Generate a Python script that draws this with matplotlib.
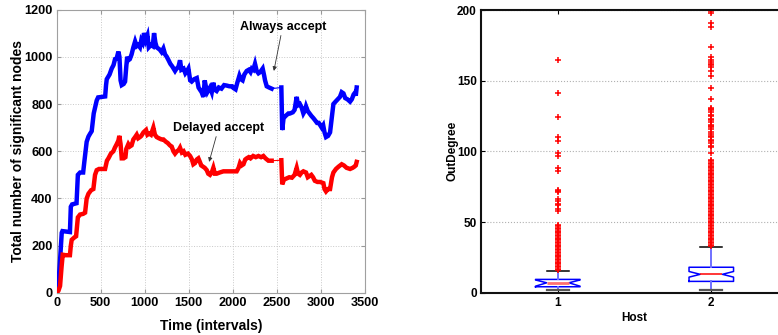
import matplotlib
matplotlib.use("Agg")
import matplotlib.pyplot as plt
import numpy as np

plt.rcParams['font.family'] = ['Liberation Sans', 'DejaVu Sans']
plt.rcParams['font.weight'] = 'bold'

# ---------------- Left panel data ----------------
t_always = [0, 20, 38, 57, 65, 150, 160, 175, 225, 240, 265, 300, 315, 340, 360, 380, 397, 420, 454, 470,
            550, 560, 568, 600, 624, 645, 662, 680, 700, 712, 725, 738, 760, 776, 790, 800, 813, 830, 850, 870,
            890, 908, 925, 945, 960, 975, 991, 1010, 1030, 1045, 1070, 1090, 1105, 1120, 1135, 1170, 1190, 1211, 1230, 1249,
            1270, 1290, 1310, 1343, 1360, 1380, 1400, 1415, 1440, 1460, 1480, 1495, 1515, 1532, 1560, 1590, 1610, 1627, 1645, 1665,
            1680, 1695, 1710, 1725, 1740, 1760, 1778, 1795, 1815, 1840, 1870, 1900, 1930, 1960, 1990, 2005, 2030, 2050, 2074, 2090,
            2110, 2130, 2157, 2180, 2200, 2215, 2232, 2251, 2270, 2290, 2310, 2338, 2355, 2365, 2384, 2410, 2440, 2550, 2560, 2575,
            2600, 2630, 2649, 2680, 2700, 2724, 2740, 2760, 2780, 2800, 2815, 2830, 2850, 2870, 2890, 2914, 2935, 2955, 2975, 3008,
            3025, 3040, 3057, 3080, 3103, 3125, 3141, 3165, 3190, 3215, 3235, 3255, 3275, 3300, 3330, 3350, 3370, 3390, 3395, 3405]
v_always = [0, 40, 140, 255, 262, 258, 365, 375, 380, 500, 510, 510, 560, 640, 662, 675, 685, 760, 815, 828,
            832, 880, 905, 925, 950, 965, 990, 992, 1022, 1000, 900, 880, 885, 895, 960, 1000, 985, 990, 1010, 1040,
            1065, 1045, 1050, 1040, 1070, 1060, 1100, 1070, 1090, 1040, 1050, 1045, 1100, 1060, 1040, 1030, 1020, 1035, 1010, 1000,
            985, 970, 960, 940, 950, 955, 985, 945, 950, 930, 940, 950, 900, 895, 905, 910, 870, 860, 850, 830,
            900, 870, 850, 860, 870, 850, 890, 860, 855, 870, 865, 880, 878, 875, 875, 868, 862, 890, 920, 905,
            900, 925, 940, 945, 935, 950, 945, 970, 940, 930, 935, 950, 920, 900, 875, 870, 865, 870, 690, 740,
            750, 760, 760, 765, 775, 830, 795, 800, 785, 760, 770, 790, 770, 760, 750, 740, 730, 720, 720, 700,
            710, 680, 660, 665, 680, 750, 800, 810, 820, 830, 850, 845, 825, 820, 810, 820, 840, 850, 835, 870]

t_delayed = [0, 20, 38, 55, 68, 100, 150, 160, 170, 200, 220, 240, 265, 300, 322, 340, 360, 390, 416, 435,
             454, 480, 549, 570, 587, 615, 643, 660, 681, 700, 711, 725, 738, 760, 780, 790, 813, 830, 850, 870,
             890, 908, 925, 945, 960, 985, 1014, 1030, 1050, 1070, 1097, 1115, 1135, 1160, 1190, 1211, 1240, 1260, 1285, 1305,
             1325, 1343, 1365, 1385, 1400, 1420, 1440, 1460, 1490, 1514, 1535, 1551, 1570, 1590, 1608, 1625, 1640, 1660, 1680, 1703,
             1720, 1740, 1760, 1778, 1795, 1815, 1850, 1892, 1940, 1990, 2043, 2065, 2081, 2100, 2120, 2140, 2157, 2180, 2200, 2230,
             2260, 2290, 2320, 2346, 2370, 2403, 2440, 2550, 2560, 2580, 2610, 2640, 2670, 2700, 2724, 2740, 2760, 2780, 2800, 2830,
             2850, 2870, 2890, 2910, 2930, 2960, 2990, 3027, 3040, 3057, 3080, 3103, 3125, 3141, 3170, 3200, 3235, 3260, 3290, 3330,
             3360, 3380, 3395, 3405]
v_delayed = [0, 10, 30, 110, 162, 160, 160, 200, 225, 235, 240, 320, 332, 335, 340, 400, 420, 435, 440, 500,
             520, 525, 525, 560, 570, 590, 600, 615, 630, 645, 665, 630, 570, 570, 575, 610, 630, 620, 625, 650,
             660, 670, 655, 660, 665, 680, 690, 670, 675, 670, 700, 670, 660, 655, 650, 650, 640, 635, 625, 620,
             600, 590, 600, 605, 615, 595, 600, 585, 590, 580, 565, 545, 550, 565, 570, 555, 540, 535, 530, 520,
             505, 500, 510, 530, 505, 505, 510, 515, 515, 515, 515, 530, 550, 540, 545, 565, 570, 575, 570, 580,
             575, 580, 575, 580, 570, 560, 560, 562, 460, 480, 485, 490, 488, 500, 530, 505, 500, 510, 515, 510,
             490, 495, 500, 490, 475, 470, 470, 465, 440, 430, 440, 440, 490, 510, 525, 535, 545, 540, 530, 525,
             530, 535, 540, 555]

x_ticks_left = [0, 500, 1000, 1500, 2000, 2500, 3000, 3500]
y_ticks_left = [0, 200, 400, 600, 800, 1000, 1200]
gap_start, gap_end = 2445, 2550

# ---------------- Right panel data (box statistics) ----------------
hosts = [1, 2]
med = [7, 13]
q1 = [4.2, 8.0]
q3 = [9.4, 18.0]
whislo = [2, 2]
whishi = [15, 32]
ci_lo = [4.6, 11.0]
ci_hi = [9.0, 15.0]
fliers_1 = [16, 17, 18, 19, 20, 21, 22, 23, 24, 25, 26, 27, 28, 29, 30, 31, 32, 33, 34, 35, 36, 37, 38, 39, 40,
            41, 42, 43, 44, 45, 46, 47, 48, 58, 59, 62, 63, 65, 66, 71, 72, 73, 86, 88, 97, 99, 107, 110, 124, 141, 165]
fliers_2 = [33, 34, 35, 36, 37, 38, 39, 40, 41, 42, 43, 44, 45, 46, 47, 48, 49, 50, 51, 52, 53, 54, 55, 56, 57,
            58, 59, 60, 61, 62, 63, 64, 65, 66, 67, 68, 69, 70, 71, 72, 73, 74, 75, 76, 77, 78, 79, 80, 81, 82,
            83, 84, 85, 86, 87, 88, 89, 90, 91, 92, 93, 94, 99, 103, 104, 106, 107, 108, 110, 111, 112, 114, 116,
            117, 118, 119, 121, 122, 123, 125, 126, 128, 129, 130, 131, 137, 145, 153, 157, 160, 161, 162, 163,
            165, 167, 174, 188, 191, 198, 199, 200]
y_ticks_right = [0, 50, 100, 150, 200]

fig = plt.figure(figsize=(7.78, 3.35), dpi=100)

# ---------------- Left panel ----------------
ax1 = fig.add_axes([0.0729, 0.1254, 0.3963, 0.8462])
ta = np.array(t_always, float); va = np.array(v_always, float)
td = np.array(t_delayed, float); vd = np.array(v_delayed, float)

for t, v, c in [(ta, va, (0, 0, 1)), (td, vd, (1, 0, 0))]:
    ax1.plot(t, v, color=c, lw=0.8, zorder=3)
    m1 = t <= gap_start
    m2 = t >= gap_end
    ax1.plot(t[m1], v[m1], color=c, lw=3.2, solid_joinstyle='miter', zorder=4)
    ax1.plot(t[m2], v[m2], color=c, lw=3.2, solid_joinstyle='miter', zorder=4)

ax1.set_xlim(0, 3500)
ax1.set_ylim(0, 1200)
ax1.set_xticks(x_ticks_left)
ax1.set_yticks(y_ticks_left)
ax1.grid(True, linestyle=':', color='#c8c8c8', lw=0.7)
ax1.tick_params(direction='in', length=3, labelsize=9.2, color='#999999', top=True, right=True, pad=3)
for lab in ax1.get_xticklabels() + ax1.get_yticklabels():
    lab.set_fontweight('bold')
for s in ax1.spines.values():
    s.set_color('#a0a0a0')
    s.set_linewidth(0.8)
ax1.set_xlabel('Time (intervals)', fontsize=10, fontweight='bold', labelpad=7)
ax1.set_ylabel('Total number of significant nodes', fontsize=10, fontweight='bold')
ax1.yaxis.set_label_coords(-0.104, 0.5)

arrow = dict(arrowstyle='-|>', color='#333333', lw=0.6, mutation_scale=6, shrinkA=0, shrinkB=0)
ax1.annotate('', xy=(2465, 940), xytext=(2545, 1090), arrowprops=arrow)
ax1.text(2570, 1128, 'Always accept', fontsize=9, fontweight='bold', ha='center', va='center')
ax1.annotate('', xy=(1730, 555), xytext=(1810, 662), arrowprops=arrow)
ax1.text(1840, 698, 'Delayed accept', fontsize=9, fontweight='bold', ha='center', va='center')

# ---------------- Right panel ----------------
ax2 = fig.add_axes([0.6183, 0.1263, 0.3946, 0.8437])
stats = []
fls = [fliers_1, fliers_2]
for i in range(2):
    stats.append(dict(med=med[i], q1=q1[i], q3=q3[i], whislo=whislo[i], whishi=whishi[i],
                      cilo=ci_lo[i], cihi=ci_hi[i], fliers=np.array(fls[i], float), label=str(hosts[i])))
bp = ax2.bxp(stats, positions=hosts, widths=0.29, shownotches=True, patch_artist=False,
             boxprops=dict(color='#0000ff', lw=1.1),
             whiskerprops=dict(color='#7070ff', lw=1.4, linestyle='-'),
             capprops=dict(color='black', lw=1.1),
             medianprops=dict(color='red', lw=1.1),
             flierprops=dict(marker='+', markeredgecolor='red', markersize=4.2, markeredgewidth=1.1, linestyle='none'))
bp['medians'][0].set_color('#ff7070')
bp['medians'][0].set_linewidth(2.0)
for cap in bp['caps'][0::2]:
    cap.set_color('#555555'); cap.set_linewidth(1.6)

ax2.set_xlim(0.5, 2.5)
ax2.set_ylim(0, 200)
ax2.set_xticks(hosts)
ax2.set_xticklabels([str(h) for h in hosts])
ax2.set_yticks(y_ticks_right)
ax2.yaxis.grid(True, linestyle=':', color='#b0b0b0', lw=0.8)
ax2.set_axisbelow(True)
ax2.tick_params(direction='in', length=3, labelsize=8.5, top=True, right=True, pad=3)
for lab in ax2.get_xticklabels() + ax2.get_yticklabels():
    lab.set_fontweight('bold')
for s in ax2.spines.values():
    s.set_color('#111111')
    s.set_linewidth(1.5)
ax2.set_xlabel('Host', fontsize=8.5, fontweight='bold', labelpad=2)
ax2.set_ylabel('OutDegree', fontsize=8.5, fontweight='bold')
ax2.yaxis.set_label_coords(-0.072, 0.5)

fig.savefig('out.png', dpi=100)
